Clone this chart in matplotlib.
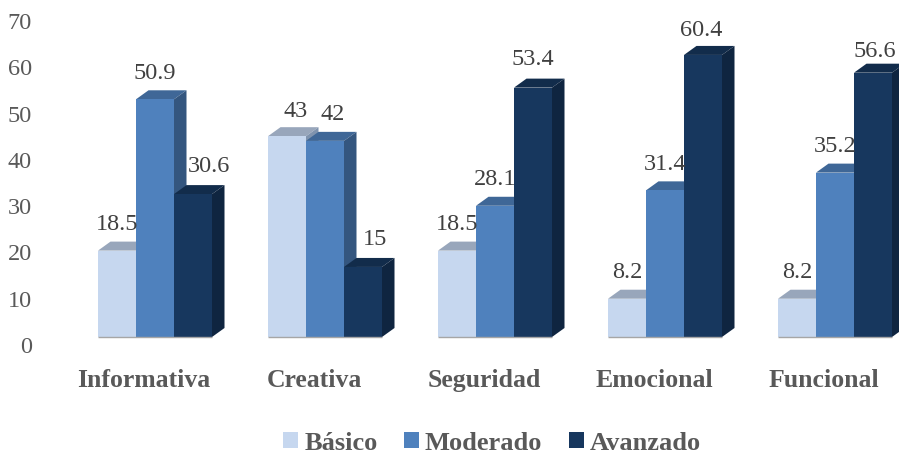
import matplotlib
matplotlib.use("Agg")
import matplotlib.pyplot as plt
from matplotlib.patches import Polygon, Patch

plt.rcParams['font.family'] = ['Liberation Serif', 'DejaVu Serif']

# Data
categories = ["Informativa", "Creativa", "Seguridad", "Emocional", "Funcional"]
basico = [18.5, 43, 18.5, 8.2, 8.2]
moderado = [50.9, 42, 28.1, 31.4, 35.2]
avanzado = [30.6, 15, 53.4, 60.4, 56.6]
y_ticks = [0, 10, 20, 30, 40, 50, 60, 70]

series = [basico, moderado, avanzado]
names = ["Básico", "Moderado", "Avanzado"]
front_colors = ["#C6D7EF", "#4F81BD", "#17375E"]
top_colors = ["#98A6BB", "#3F6797", "#122C4B"]
side_colors = ["#7F93AE", "#34567F", "#0F2540"]

# Pixel layout of the figure
W, H = 899, 455
GROUP_PX = 170
BAR_PX = 38
FIRST_CENTER = 155
BASE_Y = 337
PX_PER_UNIT = 4.67
DEPTH_X = 12.5 / GROUP_PX
DEPTH_Y = 9 / PX_PER_UNIT
bar_w = BAR_PX / GROUP_PX

# Hand shifts for labels that dodge a neighbouring bar (x px, y px)
label_shift = {(0, 2): (16, 2), (1, 0): (9, -1), (1, 1): (8, 0), (1, 2): (12, 1),
               (2, 2): (0, 2), (3, 2): (-2, -2), (4, 2): (2, -5)}

fig = plt.figure(figsize=(W / 100, H / 100), dpi=100)
ax = fig.add_axes([0, (H - BASE_Y) / H, 1, BASE_Y / H])
ax.set_xlim(-FIRST_CENTER / GROUP_PX, (W - FIRST_CENTER) / GROUP_PX)
ax.set_ylim(0, BASE_Y / PX_PER_UNIT)
ax.patch.set_visible(False)
for s in ax.spines.values():
    s.set_visible(False)
ax.set_yticks([])

for c in range(len(categories)):
    for k, vals in enumerate(series):
        v = vals[c]
        x0 = c + (k - 1.5) * bar_w
        x1 = x0 + bar_w
        z = 2 + c * 3 + k
        ax.add_patch(Polygon([(x0, v), (x1, v), (x1 + DEPTH_X, v + DEPTH_Y), (x0 + DEPTH_X, v + DEPTH_Y)],
                             facecolor=top_colors[k], edgecolor="none", zorder=z))
        ax.add_patch(Polygon([(x1, 0), (x1 + DEPTH_X, DEPTH_Y), (x1 + DEPTH_X, v + DEPTH_Y), (x1, v)],
                             facecolor=side_colors[k], edgecolor="none", zorder=z))
        ax.bar(x0 + bar_w / 2, v, width=bar_w, color=front_colors[k], zorder=z + 0.5)
    ax.hlines(0, c - 1.5 * bar_w, c + 1.5 * bar_w, color="#A6A6A6", lw=1, zorder=30, clip_on=False)

for c in range(len(categories)):
    for k, vals in enumerate(series):
        v = vals[c]
        dx, dy = label_shift.get((c, k), (0, 0))
        ax.annotate(f"{v:g}", (c + (k - 1) * bar_w, v), xytext=(dx * 0.72, (26 + dy) * 0.72),
                    textcoords="offset points", ha="center", va="center",
                    fontsize=17.5, color="#404040", zorder=40, annotation_clip=False)

# Category labels sit a little left of the group centre
ax.set_xticks([c - 11 / GROUP_PX for c in range(len(categories))])
ax.set_xticklabels(categories, fontsize=18.5, fontweight="bold", color="#595959")
ax.tick_params(axis="x", length=0, pad=23)

# The value axis is offset from the bars, as in the 3D original
ax_y = fig.add_axes([36 / W, (H - 345) / H, 1 / W, (345 - 21) / H])
ax_y.set_ylim(0, 70)
ax_y.set_yticks(y_ticks)
ax_y.set_xticks([])
ax_y.patch.set_visible(False)
for s in ax_y.spines.values():
    s.set_visible(False)
ax_y.tick_params(axis="y", length=0, pad=3, labelsize=17.5, labelcolor="#595959")

handles = [Patch(facecolor=col, edgecolor="none", label=n) for col, n in zip(front_colors, names)]
fig.legend(handles=handles, ncol=3, loc="center", bbox_to_anchor=(492 / W, (H - 443) / H),
           frameon=False, handlelength=0.57, handleheight=0.57, handletextpad=0.23,
           columnspacing=1.0, prop={"size": 19, "weight": "bold"}, labelcolor="#595959")

fig.savefig("out.png", dpi=100)
plt.close()
